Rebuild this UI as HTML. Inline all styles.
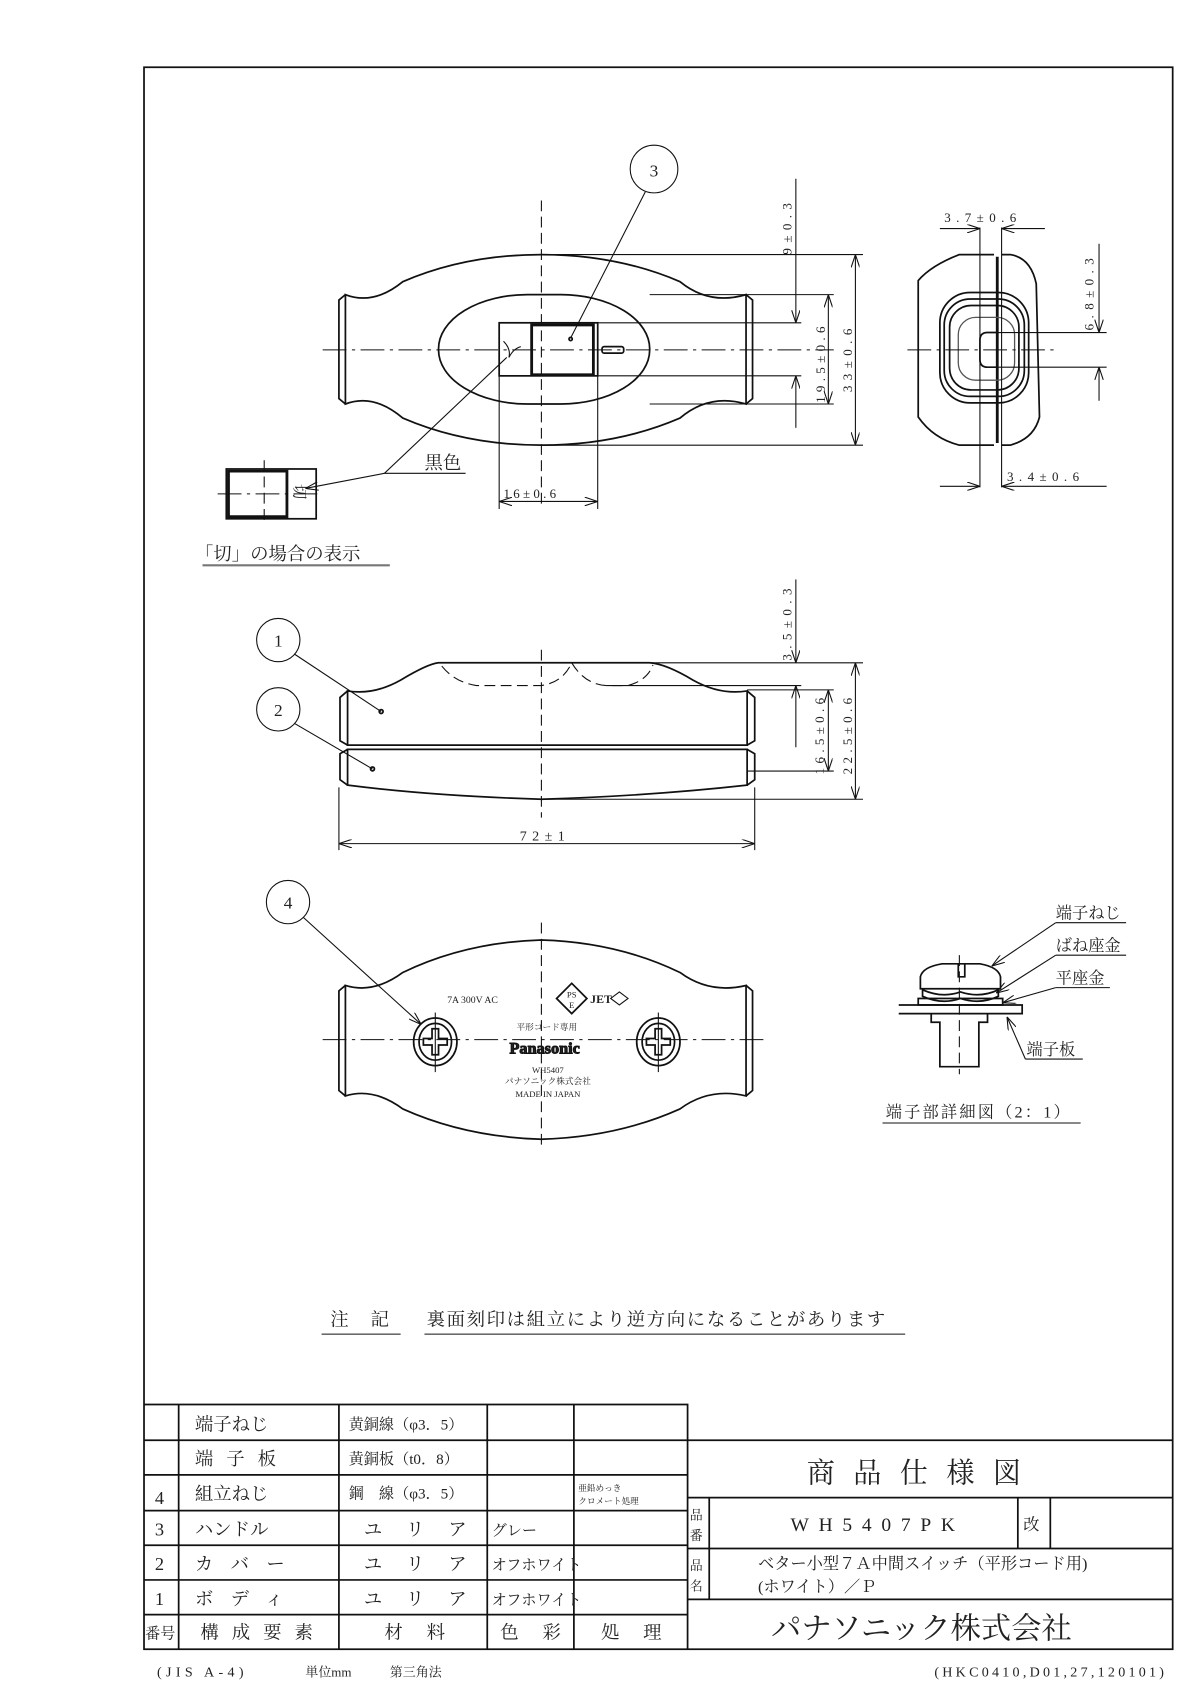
<!DOCTYPE html>
<html><head><meta charset="utf-8">
<style>
html,body{margin:0;padding:0;background:#fff;}
svg{display:block;}
text{font-family:"Liberation Serif","Noto Serif CJK SC","Noto Sans CJK JP",serif;fill:#222;}
.s{stroke:#111;fill:none;stroke-width:1.6}
.t{stroke:#111;fill:none;stroke-width:1}
.th{stroke:#111;fill:none;stroke-width:2.6}
.c{stroke:#111;fill:none;stroke-width:1;stroke-dasharray:22 5 3 5}
.d{stroke:#111;fill:none;stroke-width:1;stroke-dasharray:10 5}
.g{stroke:#555;fill:none;stroke-width:1.2}
</style></head>
<body>
<svg width="1190" height="1684" viewBox="0 0 1099 1555" xmlns="http://www.w3.org/2000/svg">
<defs>
<marker id="a" viewBox="0 0 12 8" refX="12" refY="4" markerWidth="12" markerHeight="8" orient="auto-start-reverse" markerUnits="userSpaceOnUse"><path d="M0,0 L12,4 L0,8" fill="none" stroke="#111" stroke-width="1"/></marker>
</defs>
<rect x="133" y="62" width="950" height="1461" class="s"/>

<!-- TOP VIEW -->
<path class="s" d="M319,272 Q345,282 372,260 Q430,235 500,235 Q570,235 628,260 Q655,282 689,272 L689,373 Q655,363 628,386 Q570,411 500,411 Q430,411 372,386 Q345,363 319,373 Z"/>
<path class="s" d="M319,272 L313,277 L313,368 L319,373 M689,272 L695,277 L695,368 L689,373"/>
<rect x="405" y="272" width="195" height="101" rx="82" ry="50" class="s"/>
<rect x="461" y="298" width="91" height="49" class="s"/>
<rect x="491" y="300" width="57" height="46" class="th"/>
<rect x="556" y="320" width="20" height="6" rx="2" class="s"/>
<circle cx="527" cy="313" r="1.5" class="s"/>
<path class="t" d="M465,315 Q472,322 470,330 M470,330 Q474,322 481,320"/>
<line x1="500" y1="185" x2="500" y2="470" class="d"/>
<line x1="298" y1="323" x2="770" y2="323" class="c"/>
<circle cx="604" cy="156" r="22" class="t"/><text x="604" y="163" font-size="16" text-anchor="middle">3</text>
<line x1="596" y1="177" x2="527" y2="312" class="t"/>
<path class="t" d="M500,235 L797,235 M600,272 L770,272 M552,298 L740,298 M552,347 L740,347 M600,373 L770,373 M500,411 L797,411"/>
<line x1="735" y1="165" x2="735" y2="298" class="t" marker-end="url(#a)"/>
<line x1="735" y1="395" x2="735" y2="347" class="t" marker-end="url(#a)"/>
<line x1="765" y1="272" x2="765" y2="373" class="t" marker-start="url(#a)" marker-end="url(#a)"/>
<line x1="790" y1="235" x2="790" y2="411" class="t" marker-start="url(#a)" marker-end="url(#a)"/>
<text transform="translate(731,235) rotate(-90)" font-size="12" letter-spacing="5">9±0.3</text>
<text transform="translate(762,372) rotate(-90)" font-size="12" letter-spacing="4">19.5±0.6</text>
<text transform="translate(787,362) rotate(-90)" font-size="12" letter-spacing="5">33±0.6</text>
<path class="t" d="M461,347 L461,470 M552,347 L552,470"/>
<line x1="461" y1="463" x2="552" y2="463" class="t" marker-start="url(#a)" marker-end="url(#a)"/>
<text x="465" y="460" font-size="12" letter-spacing="3">16±0.6</text>
<rect x="209" y="433" width="83" height="46" class="s"/>
<path class="th" d="M211,435 L265,435 L265,477 L211,477 Z"/>
<line x1="201" y1="456" x2="298" y2="456" class="c"/>
<line x1="244" y1="425" x2="244" y2="485" class="d"/>
<text transform="translate(272,447) rotate(90)" font-size="14">切</text>
<path class="t" d="M430,437 L355,437 L468,330"/>
<line x1="355" y1="437" x2="282" y2="451" class="t" marker-end="url(#a)"/>
<text x="392" y="433" font-size="17">黒色</text>
<text x="180" y="517" font-size="17">「切」の場合の表示</text>
<line x1="187" y1="522" x2="360" y2="522" stroke="#777" stroke-width="2"/>

<!-- END VIEW -->
<path class="s" d="M918,235 L886,235 Q860,245 848,259 L848,385 Q862,405 886,411 L918,411"/>
<path class="s" d="M925,235 L933,235 Q952,238 957,262 L960,385 Q955,405 933,411 L925,411"/>
<path class="th" d="M921,237 L921,409"/>
<rect x="868" y="270" width="82" height="102" rx="28" class="s"/>
<rect x="872" y="276" width="74" height="90" rx="24" class="s"/>
<rect x="877" y="282" width="64" height="78" rx="20" class="s"/>
<rect x="885" y="293" width="52" height="58" rx="16" class="g"/>
<path class="s" d="M920,307 L912,307 Q905,307 905,314 L905,332 Q905,339 912,339 L920,339"/>
<line x1="838" y1="323" x2="975" y2="323" class="c"/>
<path class="t" d="M905,210 L905,450 M925,210 L925,450"/>
<line x1="868" y1="211" x2="905" y2="211" class="t" marker-end="url(#a)"/>
<line x1="965" y1="211" x2="925" y2="211" class="t" marker-end="url(#a)"/>
<text x="872" y="205" font-size="12" letter-spacing="5">3.7±0.6</text>
<line x1="868" y1="449" x2="905" y2="449" class="t" marker-end="url(#a)"/>
<line x1="1022" y1="449" x2="925" y2="449" class="t" marker-end="url(#a)"/>
<text x="930" y="444" font-size="12" letter-spacing="5">3.4±0.6</text>
<path class="t" d="M920,307 L1022,307 M920,339 L1022,339"/>
<line x1="1015" y1="225" x2="1015" y2="307" class="t" marker-end="url(#a)"/>
<line x1="1015" y1="370" x2="1015" y2="339" class="t" marker-end="url(#a)"/>
<text transform="translate(1010,305) rotate(-90)" font-size="12" letter-spacing="5">6.8±0.3</text>

<!-- SIDE VIEW -->
<path class="s" d="M321,638 Q345,642 370,628 Q395,613 405,612 L600,612 Q615,613 640,628 Q665,642 690,638 L690,688 L321,688 Z"/>
<path class="s" d="M321,692 L690,692 L690,725 Q600,735 500,738 Q400,735 321,725 Z"/>
<path class="s" d="M321,638 L314,644 L314,684 L321,688 M321,692 L314,696 L314,720 L321,725 M690,638 L697,644 L697,684 L690,688 M690,692 L697,696 L697,720 L690,725"/>
<path class="d" d="M408,615 Q420,630 440,633 L500,633 Q520,630 528,612 M528,612 Q540,632 560,633 L580,633 Q598,628 603,614"/>
<line x1="500" y1="600" x2="500" y2="755" class="d"/>
<circle cx="257" cy="591" r="20" class="t"/><text x="257" y="597" font-size="16" text-anchor="middle">1</text>
<circle cx="257" cy="655" r="20" class="t"/><text x="257" y="661" font-size="16" text-anchor="middle">2</text>
<line x1="272" y1="604" x2="352" y2="657" class="t"/><circle cx="352" cy="657" r="1.8" class="s"/>
<line x1="272" y1="668" x2="344" y2="710" class="t"/><circle cx="344" cy="710" r="1.8" class="s"/>
<path class="t" d="M313,727 L313,785 M697,727 L697,785"/>
<line x1="313" y1="779" x2="697" y2="779" class="t" marker-start="url(#a)" marker-end="url(#a)"/>
<text x="480" y="776" font-size="13" letter-spacing="5">72±1</text>
<path class="t" d="M600,612 L797,612 M560,633 L740,633 M690,637 L770,637 M690,712 L770,712 M500,738 L797,738"/>
<line x1="735" y1="535" x2="735" y2="612" class="t" marker-end="url(#a)"/>
<line x1="735" y1="690" x2="735" y2="633" class="t" marker-end="url(#a)"/>
<line x1="765" y1="637" x2="765" y2="712" class="t" marker-start="url(#a)" marker-end="url(#a)"/>
<line x1="790" y1="612" x2="790" y2="738" class="t" marker-start="url(#a)" marker-end="url(#a)"/>
<text transform="translate(731,610) rotate(-90)" font-size="12" letter-spacing="5">3.5±0.3</text>
<text transform="translate(761,715) rotate(-90)" font-size="12" letter-spacing="4">16.5±0.6</text>
<text transform="translate(787,715) rotate(-90)" font-size="12" letter-spacing="4">22.5±0.6</text>

<!-- BOTTOM VIEW -->
<path class="s" d="M319,910 Q345,918 372,898 Q430,870 500,868 Q570,870 628,898 Q655,918 689,910 L689,1012 Q655,1004 628,1024 Q570,1050 500,1052 Q430,1050 372,1024 Q345,1004 319,1012 Z"/>
<path class="s" d="M319,910 L313,915 L313,1007 L319,1012 M689,910 L695,915 L695,1007 L689,1012"/>
<line x1="500" y1="852" x2="500" y2="1060" class="d"/>
<line x1="298" y1="960" x2="710" y2="960" class="c"/>
<g class="s">
<ellipse cx="402" cy="962" rx="20" ry="22"/><ellipse cx="402" cy="962" rx="15" ry="17"/>
<path d="M399,950 L405,950 L405,959 L413,959 L413,965 L405,965 L405,974 L399,974 L399,965 L391,965 L391,959 L399,959 Z"/>
<ellipse cx="608" cy="962" rx="20" ry="22"/><ellipse cx="608" cy="962" rx="15" ry="17"/>
<path d="M605,950 L611,950 L611,959 L619,959 L619,965 L611,965 L611,974 L605,974 L605,965 L597,965 L597,959 L605,959 Z"/>
</g>
<line x1="402" y1="935" x2="402" y2="990" class="t"/><line x1="608" y1="935" x2="608" y2="990" class="t"/>
<circle cx="266" cy="833" r="20" class="t"/><text x="266" y="839" font-size="16" text-anchor="middle">4</text>
<line x1="280" y1="847" x2="389" y2="946" class="t" marker-end="url(#a)"/>
<text x="413" y="926" font-size="9">7A 300V AC</text>
<path class="s" d="M528,908 L542,922 L528,936 L514,922 Z"/>
<text x="528" y="921" font-size="8" text-anchor="middle" font-family="Liberation Sans">PS</text>
<text x="528" y="931" font-size="8" text-anchor="middle" font-family="Liberation Sans">E</text>
<text x="545" y="926" font-size="11" font-weight="bold" font-family="Liberation Sans">JET</text>
<path class="t" d="M572,916 L580,922 L572,928 L564,922 Z"/>
<text x="505" y="951" font-size="8" text-anchor="middle">平形コード専用</text>
<text x="503" y="973" font-size="15" font-weight="bold" text-anchor="middle" font-family="Liberation Sans" fill="#fff" stroke="#111" stroke-width="0.9">Panasonic</text>
<text x="506" y="991" font-size="8" text-anchor="middle">WH5407</text>
<text x="506" y="1001" font-size="8" text-anchor="middle">パナソニック株式会社</text>
<text x="506" y="1013" font-size="8" text-anchor="middle">MADE IN JAPAN</text>

<!-- TERMINAL DETAIL -->
<path class="s" d="M850,913 L850,902 Q852,893 870,890 L905,890 Q922,893 924,902 L924,913 Z"/>
<path class="s" d="M885,890 L885,902 L891,902 L891,890"/>
<path class="s" d="M852,914 Q870,922 887,916 Q905,922 922,914 L922,920 Q905,928 887,922 Q870,928 852,920 Z"/>
<rect x="848" y="922" width="78" height="6" class="s"/>
<path class="s" d="M830,928 L944,928 L944,936 L830,936"/>
<path class="s" d="M860,936 L860,944 L868,944 L868,985 L904,985 L904,944 L912,944 L912,936"/>
<line x1="886" y1="882" x2="886" y2="992" class="d"/>
<path class="t" d="M975,852 L1040,852 M975,882 L1040,882 M975,912 L1025,912 M947,978 L1000,978"/>
<line x1="975" y1="852" x2="916" y2="892" class="t" marker-end="url(#a)"/>
<line x1="975" y1="882" x2="920" y2="917" class="t" marker-end="url(#a)"/>
<line x1="975" y1="912" x2="926" y2="926" class="t" marker-end="url(#a)"/>
<line x1="947" y1="978" x2="930" y2="939" class="t" marker-end="url(#a)"/>
<text x="975" y="848" font-size="15">端子ねじ</text>
<text x="975" y="878" font-size="15">ばね座金</text>
<text x="975" y="908" font-size="15">平座金</text>
<text x="948" y="974" font-size="15">端子板</text>
<text x="818" y="1032" font-size="15" letter-spacing="2">端子部詳細図（2：1）</text>
<line x1="815" y1="1037" x2="998" y2="1037" class="t"/>

<!-- NOTE -->
<text x="305" y="1224" font-size="17" letter-spacing="8">注 記</text>
<line x1="297" y1="1232" x2="370" y2="1232" class="t"/>
<text x="394" y="1224" font-size="17" letter-spacing="1.5">裏面刻印は組立により逆方向になることがあります</text>
<line x1="392" y1="1232" x2="836" y2="1232" class="t"/>

<!-- TABLE -->
<g class="s">
<path d="M133,1297 L635,1297 L635,1523"/>
<path d="M133,1330 L1083,1330 M133,1362 L635,1362 M133,1395 L635,1395 M133,1427 L635,1427 M133,1459 L635,1459 M133,1491 L635,1491"/>
<path d="M165,1297 L165,1523 M313,1297 L313,1523 M450,1297 L450,1523 M530,1297 L530,1523"/>
<path d="M635,1383 L1083,1383 M635,1430 L1083,1430 M635,1477 L1083,1477"/>
<path d="M655,1383 L655,1477 M940,1383 L940,1430 M970,1383 L970,1430"/>
</g>
<g font-size="17">
<text x="180" y="1321">端子ねじ</text><text x="322" y="1320" font-size="14">黄銅線（φ3．5）</text>
<text x="180" y="1353" letter-spacing="12">端子板</text><text x="322" y="1352" font-size="14">黄銅板（t0．8）</text>
<text x="143" y="1389">4</text><text x="180" y="1385">組立ねじ</text><text x="322" y="1384" font-size="14">鋼　線（φ3．5）</text>
<text x="534" y="1377" font-size="8">亜鉛めっき</text><text x="534" y="1389" font-size="8">クロメート処理</text>
<text x="143" y="1418">3</text><text x="180" y="1418">ハンドル</text><text x="336" y="1418" letter-spacing="22">ユリア</text><text x="454" y="1418" font-size="14">グレー</text>
<text x="143" y="1450">2</text><text x="180" y="1450" letter-spacing="16">カバー</text><text x="336" y="1450" letter-spacing="22">ユリア</text><text x="454" y="1450" font-size="14">オフホワイト</text>
<text x="143" y="1482">1</text><text x="180" y="1482" letter-spacing="16">ボディ</text><text x="336" y="1482" letter-spacing="22">ユリア</text><text x="454" y="1482" font-size="14">オフホワイト</text>
<text x="134" y="1513" font-size="14">番号</text><text x="185" y="1513" letter-spacing="12">構成要素</text><text x="355" y="1513" letter-spacing="22">材料</text><text x="462" y="1513" letter-spacing="22">色彩</text><text x="555" y="1513" letter-spacing="22">処理</text>
<text x="745" y="1369" font-size="26" letter-spacing="17">商品仕様図</text>
<text x="637" y="1403" font-size="12">品</text><text x="637" y="1422" font-size="12">番</text>
<text x="730" y="1414" font-size="18" letter-spacing="9">WH5407PK</text>
<text x="945" y="1413" font-size="15">改</text>
<text x="637" y="1450" font-size="12">品</text><text x="637" y="1469" font-size="12">名</text>
<text x="700" y="1449" font-size="15">ベター小型７Ａ中間スイッチ（平形コード用)</text>
<text x="700" y="1470" font-size="15">(ホワイト）／Ｐ</text>
<text x="712" y="1513" font-size="28">パナソニック株式会社</text>
</g>
<text x="145" y="1548" font-size="13" letter-spacing="4">(JIS A-4)</text>
<text x="282" y="1548" font-size="12">単位mm</text>
<text x="360" y="1548" font-size="12">第三角法</text>
<text x="1078" y="1548" font-size="13" letter-spacing="3" text-anchor="end">(HKC0410,D01,27,120101)</text>
</svg>
</body></html>
